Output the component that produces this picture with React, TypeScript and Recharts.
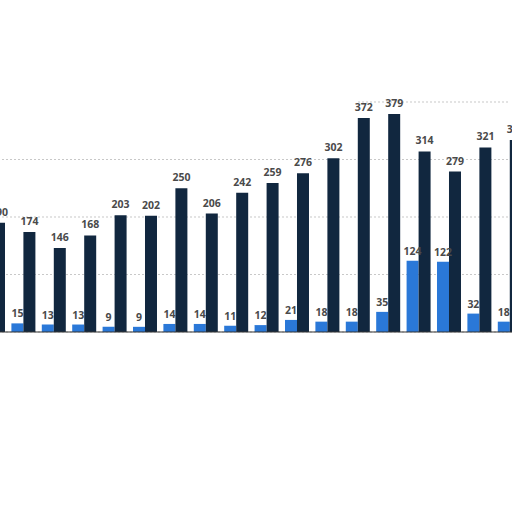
import React from "react";
import {
  BarChart,
  Bar,
  XAxis,
  YAxis,
  CartesianGrid,
  LabelList,
  ReferenceLine,
} from "recharts";

// categories are cut off in the source image, so their names are unknown
const categories = [
  "1", "2", "3", "4", "5", "6", "7", "8", "9",
  "10", "11", "12", "13", "14", "15", "16", "17", "18",
];
const lightValues = [
  null, 15, 13, 13, 9, 9, 14, 14, 11, 12, 21, 18, 18, 35, 124, 122, 32, 18,
];
const darkValues = [
  190, 174, 146, 168, 203, 202, 250, 206, 242, 259, 276, 302, 372, 379, 314,
  279, 321, 334,
];
const yTicks = [0, 100, 200, 300];

const data = categories.map((name, i) => ({
  name,
  light: lightValues[i],
  dark: darkValues[i],
}));

const labelStyle = {
  fill: "#4a4a4a",
  fontSize: 10.5,
  fontWeight: 700,
  fontFamily: "'Open Sans', sans-serif",
};

const App: React.FC = () => {
  return (
    <div
      style={{
        position: "fixed",
        left: 0,
        top: 0,
        width: 512,
        height: 512,
        overflow: "hidden",
        background: "#fff",
      }}
    >
      <div style={{ marginLeft: -21.6 }}>
        <BarChart
          width={547.2}
          height={512}
          data={data}
          margin={{ top: 102, right: 0, left: 0, bottom: 170 }}
          barGap={0}
        >
          <CartesianGrid
            vertical={false}
            strokeDasharray="2 2"
            stroke="#c8c8c8"
            horizontalValues={yTicks}
            syncWithTicks={false}
          />
          <XAxis
            dataKey="name"
            tick={false}
            tickLine={false}
            height={10}
            axisLine={{ stroke: "#333" }}
          />
          <YAxis hide domain={[0, 400]} ticks={yTicks} />
          <ReferenceLine
            segment={[
              { x: "13", y: 400 },
              { x: "18", y: 400 },
            ]}
            stroke="#c8c8c8"
            strokeDasharray="2 2"
            ifOverflow="visible"
          />
          <Bar
            dataKey="light"
            fill="#2a78d8"
            barSize={12}
            isAnimationActive={false}
          >
            <LabelList dataKey="light" position="top" offset={6} style={labelStyle} />
          </Bar>
          <Bar
            dataKey="dark"
            fill="#11273f"
            barSize={12}
            isAnimationActive={false}
          >
            <LabelList dataKey="dark" position="top" offset={7} style={labelStyle} />
          </Bar>
        </BarChart>
      </div>
    </div>
  );
};

export default App;
